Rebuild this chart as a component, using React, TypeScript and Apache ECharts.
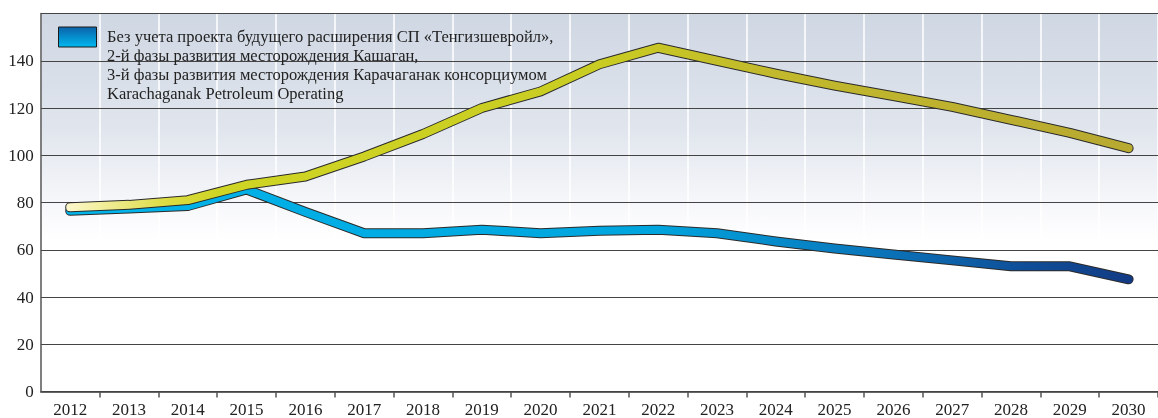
import React, { useEffect, useRef } from "react";
import * as echarts from "echarts";

const years = ["2012", "2013", "2014", "2015", "2016", "2017", "2018", "2019", "2020", "2021", "2022", "2023", "2024", "2025", "2026", "2027", "2028", "2029", "2030"];
const blueValues = [76.5, 77.5, 78.5, 85.5, 76, 67, 67, 68.5, 67, 68, 68.5, 67, 63.5, 60.5, 58, 55.5, 53, 53, 47.5];
const yellowValues = [78, 79, 81, 87.5, 91, 99.5, 109, 120, 127, 138.5, 145.5, 140, 134.5, 129.5, 125, 120.5, 115, 109.5, 103];
const yTicks = [0, 20, 40, 60, 80, 100, 120, 140];
const legendLines = [
  "Без учета проекта будущего расширения СП «Тенгизшевройл»,",
  "2-й фазы развития месторождения Кашаган,",
  "3-й фазы развития месторождения Карачаганак консорциумом",
  "Karachaganak Petroleum Operating",
];

const FONT = "Liberation Serif";

export default function App() {
  const ref = useRef<HTMLDivElement>(null);

  useEffect(() => {
    if (!ref.current) return;
    const chart = echarts.init(ref.current, undefined, { renderer: "svg" });
    const LG = echarts.graphic.LinearGradient;

    const blueGrad = new LG(0, 0, 1, 0, [
      { offset: 0, color: "#00b4e9" },
      { offset: 0.55, color: "#00a5de" },
      { offset: 0.75, color: "#0a78bd" },
      { offset: 0.9, color: "#0f4f98" },
      { offset: 1, color: "#133b85" },
    ]);
    const yellowGrad = new LG(0, 0, 1, 0, [
      { offset: 0, color: "#fcf7c8" },
      { offset: 0.09, color: "#dcdc44" },
      { offset: 0.14, color: "#cfd524" },
      { offset: 0.5, color: "#c9cc22" },
      { offset: 0.66, color: "#c2b92c" },
      { offset: 1, color: "#b8a931" },
    ]);

    const outline = (name: string, data: number[]) => ({
      type: "line",
      name,
      data,
      symbol: "none",
      silent: true,
      lineStyle: { width: 10, color: "#2a2a2a", cap: "round", join: "round" },
    });
    const inner = (name: string, data: number[], color: any) => ({
      type: "line",
      name,
      data,
      symbol: "none",
      silent: true,
      lineStyle: { width: 8, color, cap: "round", join: "round" },
    });

    chart.setOption({
      animation: false,
      textStyle: { fontFamily: FONT },
      grid: {
        left: 40.8,
        top: 13.5,
        right: -7.6,
        bottom: 26.5,
        show: true,
        borderWidth: 0,
        backgroundColor: new LG(0, 0, 0, 1, [
          { offset: 0, color: "#cfd7e3" },
          { offset: 0.3, color: "#e0e5ed" },
          { offset: 0.5, color: "#f6f7fa" },
          { offset: 0.6, color: "#ffffff" },
          { offset: 1, color: "#ffffff" },
        ]),
      },
      xAxis: {
        type: "category",
        data: years,
        z: 0,
        axisLine: { show: true, lineStyle: { color: "#333", width: 1.5 } },
        axisTick: {
          show: true,
          length: 6,
          interval: (i: number) => i !== 0,
          lineStyle: { color: "#555", width: 1.5 },
        },
        splitLine: { show: true, lineStyle: { color: "#ffffff", width: 1.5 } },
        axisLabel: {
          fontFamily: FONT,
          fontSize: 17,
          color: "#222",
          margin: 9,
        },
      },
      yAxis: {
        type: "value",
        min: 0,
        max: 160,
        interval: 20,
        z: 1,
        axisLine: { show: true, lineStyle: { color: "#555", width: 1.5 } },
        axisTick: { show: false },
        splitLine: { show: true, lineStyle: { color: "#444", width: 1.2 } },
        axisLabel: {
          fontFamily: FONT,
          fontSize: 17,
          color: "#222",
          margin: 7,
          formatter: (v: number) => (yTicks.indexOf(v) >= 0 ? String(v) : ""),
        },
      },
      series: [
        outline("blueOutline", blueValues),
        inner("blue", blueValues, blueGrad),
        outline("yellowOutline", yellowValues),
        inner("yellow", yellowValues, yellowGrad),
      ],
      graphic: [
        {
          type: "rect",
          z: 100,
          shape: { x: 58.5, y: 27, width: 38, height: 20 },
          style: {
            fill: new LG(0, 0, 0, 1, [
              { offset: 0, color: "#0b62a8" },
              { offset: 1, color: "#00b8f0" },
            ]),
            stroke: "#1a1a1a",
            lineWidth: 1,
          },
        },
        {
          type: "text",
          z: 100,
          x: 107,
          y: 27,
          style: {
            text: legendLines.join("\n"),
            fontFamily: FONT,
            fontSize: 16.5,
            fill: "#222",
            lineHeight: 19,
            verticalAlign: "top",
            align: "left",
          },
        },
      ],
    });

    return () => chart.dispose();
  }, []);

  return (
    <div
      ref={ref}
      style={{ position: "fixed", left: 0, top: 0, width: 1158, height: 418 }}
    />
  );
}
